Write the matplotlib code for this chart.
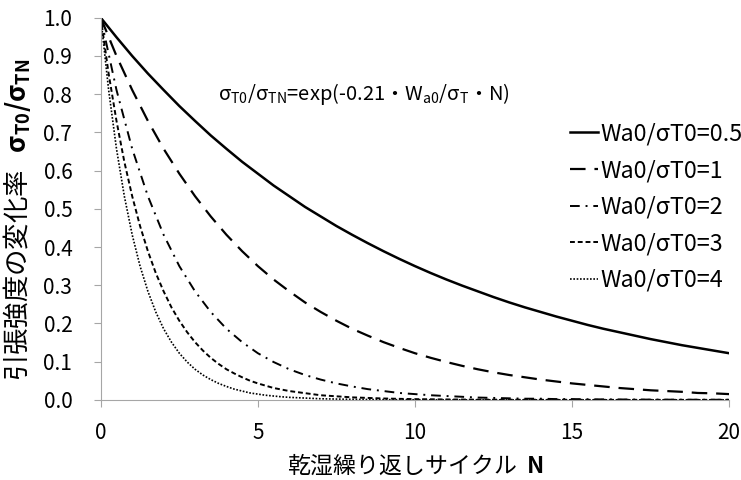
import numpy as np
import matplotlib
matplotlib.use("Agg")
import matplotlib.pyplot as plt

plt.rcParams['font.family'] = ['Noto Sans CJK JP', 'DejaVu Sans']
plt.rcParams['mathtext.fontset'] = 'custom'
plt.rcParams['mathtext.rm'] = 'Noto Sans CJK JP'
plt.rcParams['mathtext.it'] = 'Noto Sans CJK JP'
plt.rcParams['mathtext.bf'] = 'Noto Sans CJK JP:bold'
plt.rcParams['ytick.major.pad'] = 15.5
plt.rcParams['xtick.major.pad'] = 11

# sample positions
n_half = [0, 0.5, 1, 1.5, 2, 2.5, 3, 3.5, 4, 4.5, 5, 5.5, 6, 6.5, 7, 7.5, 8, 8.5, 9, 9.5,
          10, 10.5, 11, 11.5, 12, 12.5, 13, 13.5, 14, 14.5, 15, 15.5, 16, 16.5, 17, 17.5,
          18, 18.5, 19, 19.5, 20]
n_fine = [0, 0.25, 0.5, 0.75, 1, 1.25, 1.5, 1.75, 2, 2.25, 2.5, 2.75, 3, 3.25, 3.5, 3.75,
          4, 4.25, 4.5, 4.75, 5, 5.25, 5.5, 5.75, 6, 7, 8, 9, 10, 11, 12, 13, 14, 15, 16,
          17, 18, 19, 20]

# strength ratio for each Wa0/sigmaT0
y_05 = [1.000, 0.949, 0.900, 0.854, 0.811, 0.769, 0.730, 0.692, 0.657, 0.623,
        0.592, 0.561, 0.533, 0.505, 0.480, 0.455, 0.432, 0.410, 0.389, 0.369,
        0.350, 0.332, 0.315, 0.299, 0.284, 0.269, 0.255, 0.242, 0.230, 0.218,
        0.207, 0.196, 0.186, 0.177, 0.168, 0.159, 0.151, 0.143, 0.136, 0.129, 0.122]
y_1 = [1.000, 0.900, 0.811, 0.730, 0.657, 0.592, 0.533, 0.480, 0.432, 0.389,
       0.350, 0.315, 0.284, 0.255, 0.230, 0.207, 0.186, 0.168, 0.151, 0.136,
       0.122, 0.110, 0.099, 0.089, 0.080, 0.072, 0.065, 0.059, 0.053, 0.048,
       0.043, 0.039, 0.035, 0.031, 0.028, 0.025, 0.023, 0.021, 0.018, 0.017, 0.015]
y_2 = [1.000, 0.811, 0.657, 0.533, 0.432, 0.350, 0.284, 0.230, 0.186, 0.151,
       0.122, 0.099, 0.080, 0.065, 0.053, 0.043, 0.035, 0.028, 0.023, 0.018,
       0.015, 0.012, 0.010, 0.008, 0.006, 0.005, 0.004, 0.003, 0.003, 0.002,
       0.002, 0.0015, 0.0012, 0.0010, 0.0008, 0.0006, 0.0005, 0.0004, 0.0003, 0.0003, 0.0002]
y_3 = [1.000, 0.854, 0.730, 0.623, 0.533, 0.455, 0.389, 0.332, 0.284, 0.242,
       0.207, 0.177, 0.151, 0.129, 0.110, 0.094, 0.080, 0.069, 0.059, 0.050,
       0.043, 0.037, 0.031, 0.027, 0.023, 0.012, 0.0065, 0.0035, 0.0018, 0.0010,
       0.0005, 0.0003, 0.0002, 0.0001, 0.0, 0.0, 0.0, 0.0, 0.0]
y_4 = [1.000, 0.811, 0.657, 0.533, 0.432, 0.350, 0.284, 0.230, 0.186, 0.151,
       0.122, 0.099, 0.080, 0.065, 0.053, 0.043, 0.035, 0.028, 0.023, 0.018,
       0.015, 0.012, 0.010, 0.008, 0.0065, 0.0028, 0.0012, 0.0005, 0.0002, 0.0001,
       0.0, 0.0, 0.0, 0.0, 0.0, 0.0, 0.0, 0.0, 0.0]

labels = ["Wa0/σT0=0.5", "Wa0/σT0=1", "Wa0/σT0=2", "Wa0/σT0=3", "Wa0/σT0=4"]

fig = plt.figure(figsize=(7.41, 4.8), dpi=100)
ax = fig.add_axes([0.136, 0.167, 0.848, 0.796])

ax.plot(n_half, y_05, color='black', lw=1.8, label=labels[0])
ax.plot(n_half, y_1, color='black', lw=1.6, dashes=(7, 4), label=labels[1])
ax.plot(n_half, y_2, color='black', lw=1.4, dashes=(5, 3, 1, 3), label=labels[2])
ax.plot(n_fine, y_3, color='black', lw=1.4, dashes=(2.5, 1.5), label=labels[3])
ax.plot(n_fine, y_4, color='black', lw=1.2, dashes=(1, 1), label=labels[4])

ax.set_xlim(0, 20)
ax.set_ylim(0, 1.0)
ax.set_xticks([0, 5, 10, 15, 20])
ax.set_yticks(np.linspace(0, 1, 11))
ax.yaxis.set_major_formatter(matplotlib.ticker.FormatStrFormatter('%.1f'))
ax.tick_params(labelsize=15, color='#a6a6a6', length=5)
for side in ['top', 'right']:
    ax.spines[side].set_visible(False)
for side in ['left', 'bottom']:
    ax.spines[side].set_color('#a6a6a6')

ax.set_xlabel("乾湿繰り返しサイクル  $\\mathbf{N}$", fontsize=16.5, va='center')
ax.xaxis.set_label_coords(0.5, -0.17)
ax.set_ylabel("引張強度の変化率   $\\mathbf{σ_{T0}/σ_{TN}}$", fontsize=19)
ax.yaxis.set_label_coords(-0.108, 0.47)

ax.text(0.186, 0.80, "σ$_{\\mathrm{T0}}$/σ$_{\\mathrm{TN}}$=exp(-0.21・W$_{\\mathrm{a0}}$/σ$_{\\mathrm{T}}$・N)",
        transform=ax.transAxes, fontsize=14.5, va='center', ha='left')

ax.legend(loc='upper left', bbox_to_anchor=(0.728, 0.756), frameon=False, fontsize=16.8,
          handlelength=1.2, handletextpad=0.1, labelspacing=0.58, borderpad=0)

fig.savefig("out.png", dpi=100)
